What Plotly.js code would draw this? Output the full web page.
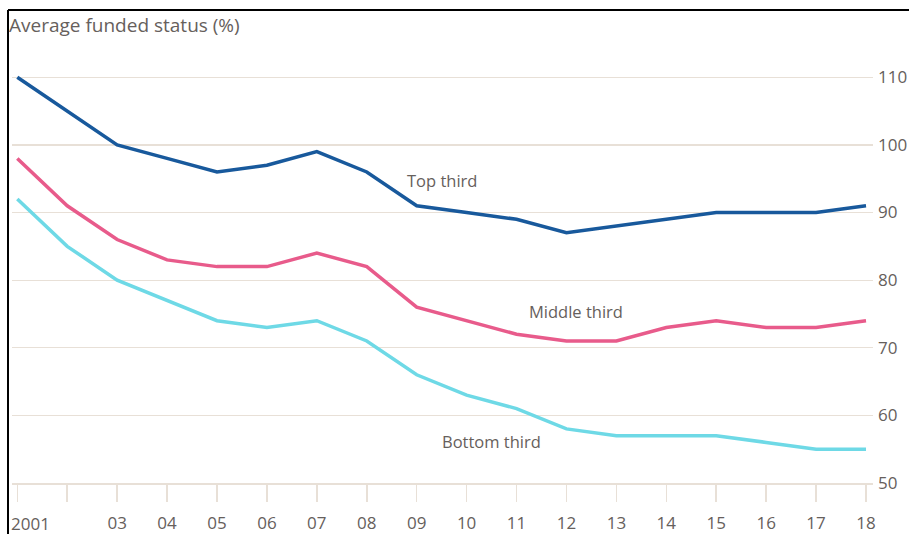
<!DOCTYPE html>
<html>
<head>
<meta charset="utf-8">
<script src="https://cdn.plot.ly/plotly-3.0.1.min.js"></script>
<style>
  html, body { margin: 0; padding: 0; background: #ffffff; }
  #chart { width: 909px; height: 534px; }
</style>
</head>
<body>
<div id="chart"></div>
<script>
const years = [2001, 2002, 2003, 2004, 2005, 2006, 2007, 2008, 2009, 2010, 2011, 2012, 2013, 2014, 2015, 2016, 2017, 2018];
const topThird    = [110, 105, 100, 98, 96, 97, 99, 96, 91, 90, 89, 87, 88, 89, 90, 90, 90, 91];
const middleThird = [98, 91, 86, 83, 82, 82, 84, 82, 76, 74, 72, 71, 71, 73, 74, 73, 73, 74];
const bottomThird = [92, 85, 80, 77, 74, 73, 74, 71, 66, 63, 61, 58, 57, 57, 57, 56, 55, 55];
const xTickLabels = ["2001", "", "03", "04", "05", "06", "07", "08", "09", "10", "11", "12", "13", "14", "15", "16", "17", "18"];
const yTickVals = [50, 60, 70, 80, 90, 100, 110];
const seriesNames = ["Top third", "Middle third", "Bottom third"];
const labelPos = [[2009.5, 94.8], [2012.2, 75.3], [2010.5, 56.2]];

const FONT = "'Open Sans', sans-serif";
const GREY = "#66605c";
const GRID = "#e8e0d7";
const colors = ["#18599c", "#e85b8b", "#6ed9e6"];
const series = [topThird, middleThird, bottomThird];

const traces = series.map((s, i) => ({
  x: years, y: s, type: "scatter", mode: "lines", name: seriesNames[i],
  line: { color: colors[i], width: 3.5 }, hoverinfo: "skip"
}));

const annotations = seriesNames.map((n, i) => ({
  x: labelPos[i][0], y: labelPos[i][1], xref: "x", yref: "y",
  text: n, showarrow: false, xanchor: "center", yanchor: "middle",
  font: { family: FONT, size: 16.5, color: GREY }
}));
// first tick label is left-aligned in the original
annotations.push({
  x: years[0], y: 0, xref: "x", yref: "paper", text: xTickLabels[0],
  showarrow: false, xanchor: "left", yanchor: "middle", xshift: -8, yshift: -40,
  font: { family: FONT, size: 17, color: GREY }
});
const tickText = xTickLabels.map((t, i) => i === 0 ? "" : t);

const layout = {
  width: 909, height: 534,
  margin: { l: 12, r: 36, t: 57, b: 51, pad: 0 },
  paper_bgcolor: "#ffffff", plot_bgcolor: "#ffffff",
  showlegend: false,
  title: {
    text: "Average funded status (%)", x: 9 / 909, xanchor: "left", xref: "container",
    y: 1 - 25 / 534, yanchor: "middle", yref: "container",
    font: { family: FONT, size: 19, color: GREY }
  },
  xaxis: {
    range: [2000.894, 2018.14], tickvals: years, ticktext: tickText,
    showgrid: false, zeroline: false,
    showline: true, linecolor: GRID, linewidth: 1.5,
    ticks: "outside", ticklen: 17, tickcolor: GRID, tickwidth: 1.5,
    ticklabelstandoff: 7,
    tickfont: { family: FONT, size: 17, color: GREY }, fixedrange: true
  },
  yaxis: {
    range: [50, 113], side: "right", tickvals: yTickVals,
    showgrid: true, gridcolor: GRID, gridwidth: 1.2, zeroline: false,
    showline: false, ticks: "", ticklabelstandoff: 4,
    tickfont: { family: FONT, size: 17, color: GREY }, fixedrange: true
  },
  annotations: annotations,
  shapes: [
    { type: "line", xref: "paper", yref: "paper", x0: -4 / 861, x1: 1.05, y0: (483 - 10) / 426, y1: (483 - 10) / 426,
      line: { color: "#000000", width: 2 } },
    { type: "line", xref: "paper", yref: "paper", x0: -4 / 861, x1: -4 / 861, y0: (483 - 10) / 426, y1: -0.2,
      line: { color: "#000000", width: 2 } }
  ]
};

Plotly.newPlot("chart", traces, layout, { displayModeBar: false, staticPlot: true });
</script>
</body>
</html>
